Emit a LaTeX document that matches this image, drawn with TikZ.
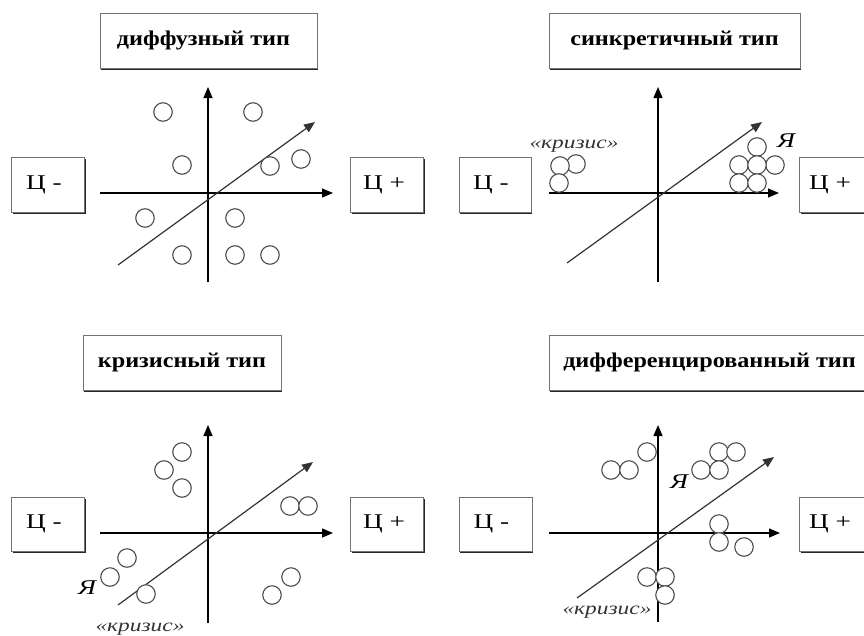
\documentclass[tikz,border=0pt]{standalone}
\usepackage{fontspec}
\setmainfont{Liberation Serif}
\newfontfamily\titlefont[FakeStretch=1.15,UprightFont=* Bold]{Liberation Serif}
\newfontfamily\labfont[FakeStretch=1.3]{Liberation Serif}
\newfontfamily\itfont[FakeStretch=1.3,UprightFont=* Italic]{Liberation Serif}
\usetikzlibrary{arrows.meta,shadows}
\tikzset{
  box/.style={draw=black!55, line width=0.8pt, fill=white, inner sep=0pt,
    drop shadow={shadow xshift=1.2pt, shadow yshift=-1.6pt, opacity=1, fill=black!85}},
  titlebox/.style={box, minimum height=55pt, font=\titlefont\fontsize{21}{24}\selectfont},
  cbox/.style={box, minimum width=73pt, minimum height=55pt, font=\labfont\fontsize{21}{24}\selectfont},
  axis/.style={draw=black, line width=1.2pt, -{Triangle[length=11pt,width=9pt]}},
  diag/.style={draw=black!80, line width=1.2pt, -{Triangle[length=11pt,width=9pt]}},
  bub/.style={circle, draw=black!70, line width=1.1pt, fill=white, minimum size=18.5pt, inner sep=0pt},
  crisis/.style={font=\itfont\fontsize{18}{20}\selectfont, text=black!80, inner sep=0pt},
  ya/.style={font=\itfont\fontsize{21}{23}\selectfont, inner sep=0pt},
}
\begin{document}
\begin{tikzpicture}[x=1pt,y=-1pt]
\clip (0,0) rectangle (864,635);
\fill[white] (0,0) rectangle (864,635);

% ---------- top left: диффузный тип ----------
\node[titlebox, minimum width=217pt] (t1) at (208.5,40.5) {диффузный тип\hspace*{10pt}};
\node[cbox] (m1) at (48,184.5) {Ц -\hspace*{8pt}};
\node[cbox] (p1) at (387,184.5) {Ц +\hspace*{6pt}};
\coordinate (v1a) at (208,282); \coordinate (v1b) at (208,87);
\coordinate (h1a) at (100,193); \coordinate (h1b) at (333,193);
\coordinate (d1a) at (118,265); \coordinate (d1b) at (315,122);
\draw[axis] (v1a) -- (v1b);
\draw[axis] (h1a) -- (h1b);
\draw[diag] (d1a) -- (d1b);
\foreach \p in {(163,112),(253,112),(182,165),(270,166),(301,159),(145,218),(235,218),(182,255),(235,255),(270,255)}
  \node[bub] at \p {};

% ---------- top right: синкретичный тип ----------
\node[titlebox, minimum width=251pt] (t2) at (674.5,40.5) {синкретичный тип};
\node[cbox, minimum width=72pt] (m2) at (495,184.5) {Ц -\hspace*{8pt}};
\node[cbox] (p2) at (836,184.5) {Ц +\hspace*{12pt}};
\coordinate (v2a) at (658,282); \coordinate (v2b) at (658,87);
\coordinate (h2a) at (549,193); \coordinate (h2b) at (779,193);
\coordinate (d2a) at (567,263); \coordinate (d2b) at (762,122);
\draw[axis] (v2a) -- (v2b);
\draw[axis] (h2a) -- (h2b);
\draw[diag] (d2a) -- (d2b);
\foreach \p in {(576,164),(560,166),(559,183),(757,147),(739,165),(775,165),(757,165),(739,183),(757,183)}
  \node[bub] at \p {};
\node[crisis] (k2) at (574,146) {«кризис»};
\node[ya] (y2) at (786,141) {Я};

% ---------- bottom left: кризисный тип ----------
\node[titlebox, minimum width=198pt] (t3) at (182,362.5) {кризисный тип};
\node[cbox, minimum height=54pt] (m3) at (48,524) {Ц -\hspace*{8pt}};
\node[cbox, minimum height=54pt] (p3) at (387,524) {Ц +\hspace*{6pt}};
\coordinate (v3a) at (208,623); \coordinate (v3b) at (208,425);
\coordinate (h3a) at (100,533); \coordinate (h3b) at (333,533);
\coordinate (d3a) at (118,605); \coordinate (d3b) at (313,462);
\draw[axis] (v3a) -- (v3b);
\draw[axis] (h3a) -- (h3b);
\draw[diag] (d3a) -- (d3b);
\foreach \p in {(182,452),(164,470),(182,488),(290,506),(308,506),(127,558),(110,577),(146,594),(291,577),(272,595)}
  \node[bub] at \p {};
\node[ya] (y3) at (87,588) {Я};
\node[crisis] (k3) at (140,629) {«кризис»};

% ---------- bottom right: дифференцированный тип ----------
\node[titlebox, minimum width=321pt] (t4) at (709.5,362.5) {дифференцированный тип};
\node[cbox, minimum height=54pt] (m4) at (495.5,524) {Ц -\hspace*{8pt}};
\node[cbox, minimum height=54pt] (p4) at (836,524) {Ц +\hspace*{12pt}};
\coordinate (v4a) at (658,622); \coordinate (v4b) at (658,425);
\coordinate (h4a) at (549,533); \coordinate (h4b) at (780,533);
\coordinate (d4a) at (577,598); \coordinate (d4b) at (774,457);
\draw[axis] (v4a) -- (v4b);
\draw[axis] (h4a) -- (h4b);
\draw[diag] (d4a) -- (d4b);
\foreach \p in {(647,452),(611,470),(629,470),(719,452),(736,452),(701,470),(719,470),(719,524),(719,542),(744,547),(647,577),(665,577),(665,595)}
  \node[bub] at \p {};
\node[ya] (y4) at (679,482) {Я};
\node[crisis] (k4) at (607,612) {«кризис»};
\end{tikzpicture}
\end{document}
